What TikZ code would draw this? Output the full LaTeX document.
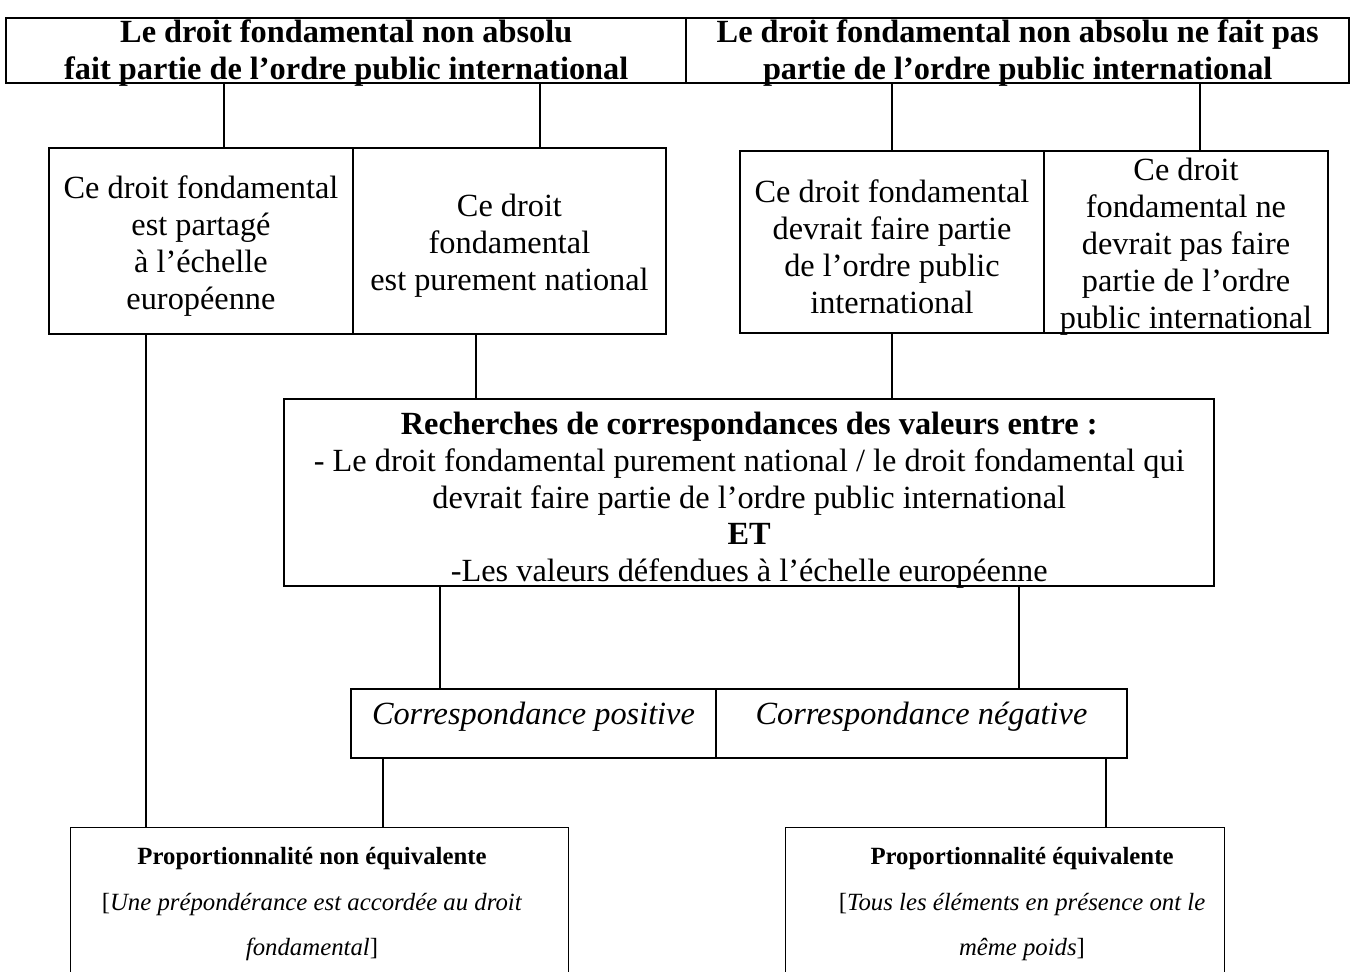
\documentclass[tikz,border=0pt]{standalone}
\usepackage{fontspec}
\setmainfont{Liberation Serif}
\newcommand{\mainsize}{\fontsize{18.4}{21}\selectfont}
\newcommand{\notesize}{\fontsize{14.1}{26}\selectfont}
\tikzset{
    heavybox/.style={draw, line width=1.4pt, inner sep=0pt},
    midbox/.style={draw, line width=1.1pt, inner sep=0pt},
    thinbox/.style={draw, line width=0.6pt, inner sep=0pt},
    boxtext/.style={align=center, inner sep=0pt, font=\mainsize, yshift=-0.1cm},
    link/.style={line width=0.6pt},
}
\newcommand{\cellbox}[8]{
    % Box from corner (#2,#3) to corner (#4,#5), in pixels, text centred in it
    \node[#6, anchor=north west, minimum width={(#4-#2)*0.02cm}, minimum height={(#5-#3)*0.02cm}] (#1) at (#2,#3) {};
    \node[boxtext, #7] (#1-t) at (#1.center) {#8};
}
\newcommand{\vlink}[3]{
    % Vertical connector at x = #1 from node #2 down to node #3
    \coordinate (x) at (#1,0);
    \draw[link] (x |- #2.south) -- (x |- #3.north);
}

\begin{document}
\begin{tikzpicture}[x=0.02cm, y=-0.02cm]
    \useasboundingbox (0,0) rectangle (1354,971);

    % Headers
    \cellbox{hl}{5}{17}{685}{82}{heavybox}{font=\mainsize\bfseries, yshift=0.06cm}{Le droit fondamental non absolu\\fait partie de l'ordre public international}
    \cellbox{hr}{685}{17}{1348}{82}{heavybox}{font=\mainsize\bfseries, yshift=0.06cm}{Le droit fondamental non absolu ne fait pas\\partie de l'ordre public international}

    % Second row
    \cellbox{l1}{48}{147}{352}{333}{midbox}{}{Ce droit fondamental\\est partagé\\à l'échelle\\européenne}
    \cellbox{l2}{352}{147}{665}{333}{midbox}{}{Ce droit\\fondamental\\est purement national}
    \cellbox{r1}{739}{150}{1043}{332}{midbox}{}{Ce droit fondamental\\devrait faire partie\\de l'ordre public\\international}
    \cellbox{r2}{1043}{150}{1327}{332}{midbox}{}{Ce droit\\fondamental ne\\devrait pas faire\\partie de l'ordre\\public international}

    % Central box
    \cellbox{rc}{283}{398}{1213}{585}{heavybox}{yshift=-0.05cm}{\textbf{Recherches de correspondances des valeurs entre :}\\- Le droit fondamental purement national / le droit fondamental qui\\devrait faire partie de l'ordre public international\\\textbf{ET}\\-Les valeurs défendues à l'échelle européenne}

    % Correspondances
    \cellbox{cp}{350}{688}{715}{757}{midbox}{font=\mainsize\itshape, yshift=0.24cm}{Correspondance positive}
    \cellbox{cn}{715}{688}{1126}{757}{midbox}{font=\mainsize\itshape, yshift=0.24cm}{Correspondance négative}

    % Results (bottom edge outside the page)
    \cellbox{pn}{70}{827}{568}{1010}{thinbox}{}{}
    \cellbox{pe}{785}{827}{1224}{1010}{thinbox}{}{}
    \node[boxtext, yshift=0pt, font=\notesize, anchor=north] (pnt) at (312,842) {\textbf{Proportionnalité non équivalente}\\{}[\textit{Une prépondérance est accordée au droit}\\\textit{fondamental}]};
    \node[boxtext, yshift=0pt, font=\notesize, anchor=north] (pet) at (1022,842) {\textbf{Proportionnalité équivalente}\\{}[\textit{Tous les éléments en présence ont le}\\\textit{même poids}]};

    % Connectors
    \vlink{224}{hl}{l1}
    \vlink{540}{hl}{l2}
    \vlink{892}{hr}{r1}
    \vlink{1200}{hr}{r2}
    \vlink{146}{l1}{pn}
    \vlink{476}{l2}{rc}
    \vlink{892}{r1}{rc}
    \vlink{440}{rc}{cp}
    \vlink{1019}{rc}{cn}
    \vlink{383}{cp}{pn}
    \vlink{1106}{cn}{pe}
\end{tikzpicture}
\end{document}
